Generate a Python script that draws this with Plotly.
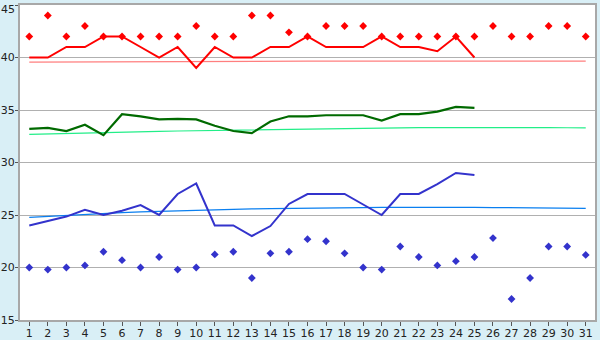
import plotly.graph_objects as go

days = list(range(1, 32))
days_line = list(range(1, 26))

red_line = [40, 40, 41, 41, 42, 42, 41, 40, 41, 39, 41, 40, 40, 41, 41, 42, 41, 41, 41, 42,
            41, 41, 40.6, 42, 40]
red_marks = [42, 44, 42, 43, 42, 42, 42, 42, 42, 43, 42, 42, 44, 44, 42.4, 42, 43, 43, 43, 42,
             42, 42, 42, 42, 42, 43, 42, 42, 43, 43, 42]
red_trend = [39.56, 39.57, 39.58, 39.59, 39.60, 39.61, 39.62, 39.62, 39.63, 39.63, 39.64, 39.64,
             39.64, 39.65, 39.65, 39.65, 39.65, 39.65, 39.65, 39.65, 39.65, 39.65, 39.65, 39.65,
             39.65, 39.65, 39.65, 39.65, 39.65, 39.65, 39.65]

green_line = [33.2, 33.3, 33.0, 33.6, 32.6, 34.6, 34.4, 34.1, 34.15, 34.1, 33.5, 33.0, 32.8, 33.9,
              34.4, 34.4, 34.5, 34.5, 34.5, 34.0, 34.6, 34.6, 34.85, 35.3, 35.2]
green_trend = [32.68, 32.73, 32.78, 32.82, 32.86, 32.90, 32.94, 32.97, 33.00, 33.03, 33.06, 33.09,
               33.12, 33.15, 33.18, 33.21, 33.23, 33.25, 33.27, 33.29, 33.31, 33.32, 33.33, 33.34,
               33.35, 33.35, 33.35, 33.34, 33.33, 33.31, 33.29]

blue_line = [24, 24.4, 24.85, 25.5, 25.0, 25.4, 25.95, 25.0, 27.0, 28.0, 24.0, 24.0, 23.0, 23.95,
             26.05, 27.0, 27.0, 27.0, 26.0, 25.0, 27.0, 27.0, 27.95, 29.0, 28.8]
blue_marks = [20.0, 19.8, 20.0, 20.2, 21.5, 20.7, 20.0, 21.0, 19.8, 20.0, 21.25, 21.5, 19.0, 21.35,
              21.5, 22.7, 22.5, 21.35, 20.0, 19.8, 22.0, 21.0, 20.2, 20.6, 21.0, 22.8, 17.0, 19.0,
              22.0, 22.0, 21.2]
blue_trend = [24.78, 24.88, 24.97, 25.06, 25.14, 25.22, 25.29, 25.35, 25.41, 25.46, 25.51, 25.55,
              25.58, 25.61, 25.64, 25.66, 25.68, 25.70, 25.71, 25.72, 25.73, 25.73, 25.73, 25.73,
              25.72, 25.71, 25.70, 25.69, 25.68, 25.66, 25.64]

y_ticks = [15, 20, 25, 30, 35, 40, 45]
# the top label is drawn as an annotation (nudged down so it stays inside the page)
y_ticktext = [str(v) if v != max(y_ticks) else "" for v in y_ticks]

fig = go.Figure()

fig.add_trace(go.Scatter(x=days, y=red_trend, mode="lines",
                         line=dict(color="#ff7f7f", width=1.2), hoverinfo="skip"))
fig.add_trace(go.Scatter(x=days, y=green_trend, mode="lines",
                         line=dict(color="#22ee88", width=1.2), hoverinfo="skip"))
fig.add_trace(go.Scatter(x=days, y=blue_trend, mode="lines",
                         line=dict(color="#0a7ff0", width=1.2), hoverinfo="skip"))

fig.add_trace(go.Scatter(x=days_line, y=red_line, mode="lines",
                         line=dict(color="#ff0000", width=2)))
fig.add_trace(go.Scatter(x=days_line, y=green_line, mode="lines",
                         line=dict(color="#006a00", width=2.2)))
fig.add_trace(go.Scatter(x=days_line, y=blue_line, mode="lines",
                         line=dict(color="#3333cc", width=2)))

fig.add_trace(go.Scatter(x=days, y=red_marks, mode="markers",
                         marker=dict(symbol="diamond", size=6, color="#ff0000")))
fig.add_trace(go.Scatter(x=days, y=blue_marks, mode="markers",
                         marker=dict(symbol="diamond", size=6, color="#3333cc")))

fig.update_layout(
    width=600, height=340,
    margin=dict(l=20, r=5, t=5, b=20),
    paper_bgcolor="#d9eff6",
    plot_bgcolor="#ffffff",
    showlegend=False,
    font=dict(family="DejaVu Sans", size=11, color="#222222"),
)
fig.add_annotation(x=0, xref="paper", y=max(y_ticks), yref="y",
                   text=str(max(y_ticks)), showarrow=False,
                   xanchor="right", yanchor="top", xshift=-3, yshift=4,
                   font=dict(family="DejaVu Sans", size=11, color="#222222"))
fig.update_xaxes(
    range=[0.5, 31.5], tickmode="array", tickvals=days, ticktext=[str(d) for d in days],
    showgrid=False, zeroline=False, automargin=False, ticklabeloverflow="allow",
    showline=True, linecolor="#a8a8a8", linewidth=2, mirror=True,
    ticks="outside", ticklen=4, tickcolor="#555555", tickfont=dict(size=11),
    ticklabelstandoff=-2,
)
fig.update_yaxes(
    range=[15, 45], tickmode="array", tickvals=y_ticks, ticktext=y_ticktext,
    showgrid=True, gridcolor="#b0b0b0", gridwidth=1, zeroline=False, automargin=False,
    ticklabeloverflow="allow", ticklabelstandoff=-2,
    showline=True, linecolor="#a8a8a8", linewidth=2, mirror=True,
    ticks="outside", ticklen=3, tickcolor="#555555", tickfont=dict(size=11),
)

fig.write_html("out.html")
